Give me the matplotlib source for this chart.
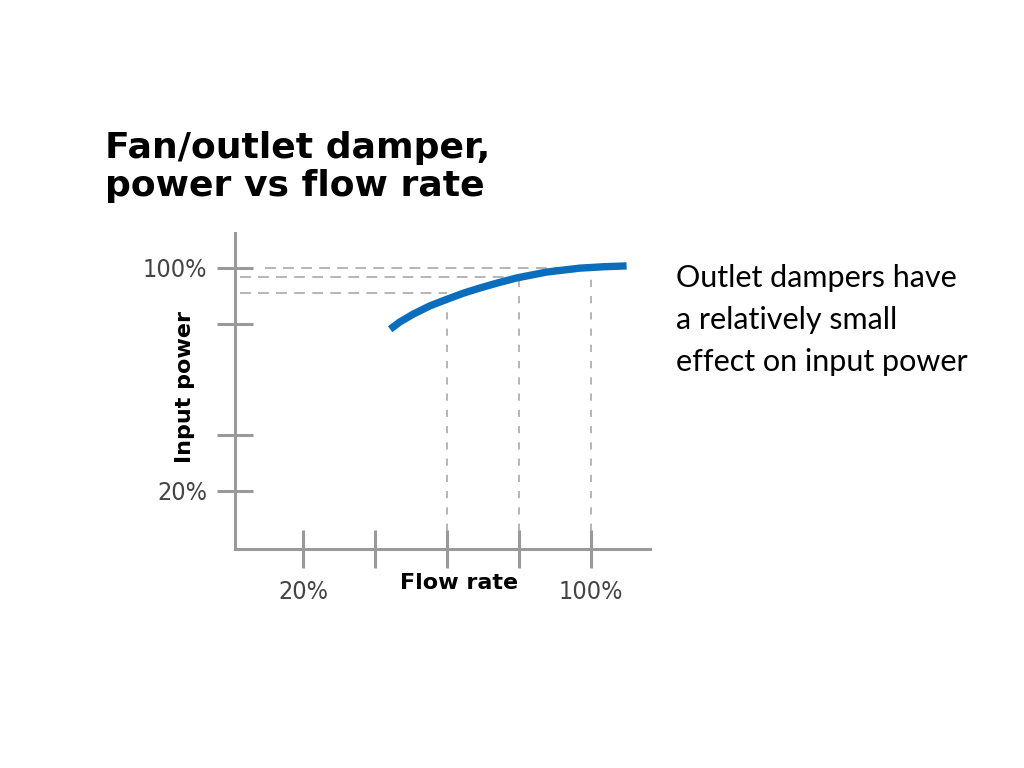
import matplotlib
matplotlib.use("Agg")
import matplotlib.pyplot as plt

# curve (flow %, input power %)
flow = [44.2, 46.9, 50.6, 55.3, 59.9, 64.5, 69.2, 73.8, 79.4, 87.7, 96.9, 103.5, 109.9]
power = [78.0, 80.6, 83.4, 86.4, 88.7, 90.9, 92.8, 94.5, 96.4, 98.5, 99.9, 100.4, 100.7]

# dashed guide lines
guide_flow = [60, 80, 100]
guide_power = [91, 96.8, 100]
guide_start = [2.5, 2.5, 9.5]

yticks = [20, 40, 80, 100]
ytick_labels = ["20%", "", "", "100%"]
xticks = [20, 40, 60, 80, 100]
xtick_labels = ["20%", "", "", "", "100%"]

title_lines = ["Fan/outlet damper,", "power vs flow rate"]
note_lines = ["Outlet dampers have", "a relatively small", "effect on input power"]

axis_grey = "#9a9a9a"
dash_grey = "#b0b0b0"
blue = "#0a6ebd"

fig = plt.figure(figsize=(10.24, 7.68), dpi=100)
ax = fig.add_axes([235 / 1024, 219 / 768, 415 / 1024, 316 / 768])
ax.set_xlim(1.1, 116.4)
ax.set_ylim(-0.8, 112.5)

for s in ["top", "right"]:
    ax.spines[s].set_visible(False)
for s in ["left", "bottom"]:
    ax.spines[s].set_color(axis_grey)
    ax.spines[s].set_linewidth(2.2)

ax.set_xticks(xticks)
ax.set_xticklabels(xtick_labels)
ax.set_yticks(yticks)
ax.set_yticklabels(ytick_labels)
ax.tick_params(axis="both", direction="inout", color=axis_grey, width=2.2,
               labelcolor="#444444", labelsize=18)
ax.tick_params(axis="y", length=26, pad=7)
ax.tick_params(axis="x", length=28, pad=8)
for lab in ax.get_xticklabels() + ax.get_yticklabels():
    lab.set_fontstretch("condensed")

# guides
for gx, gy, g0 in zip(guide_flow, guide_power, guide_start):
    ax.plot([g0, gx], [gy, gy], color=dash_grey, lw=1.3, dashes=(6, 4), zorder=1)
    ax.plot([gx, gx], [0, gy], color=dash_grey, lw=1.3, dashes=(4, 5), zorder=1)

ax.plot(flow, power, color=blue, lw=5.3, solid_capstyle="butt",
        solid_joinstyle="round", zorder=3)

ax.text(63.3, -13.0, "Flow rate", ha="center", va="center", fontsize=16,
        fontweight="bold", clip_on=False)
ax.text(-12.8, 57.3, "Input power", ha="center", va="center", rotation=90,
        fontsize=16, fontweight="bold", clip_on=False)

for i, line in enumerate(title_lines):
    fig.text(105 / 1024, 1 - (158 + 38 * i) / 768, line, ha="left",
             va="baseline", fontsize=26, fontweight="heavy")

for i, line in enumerate(note_lines):
    fig.text(676 / 1024, 1 - (287 + 42 * i) / 768, line, ha="left",
             va="baseline", fontsize=22, family=["Lato", "DejaVu Sans"])

fig.savefig("out.png", dpi=100, facecolor="white")
